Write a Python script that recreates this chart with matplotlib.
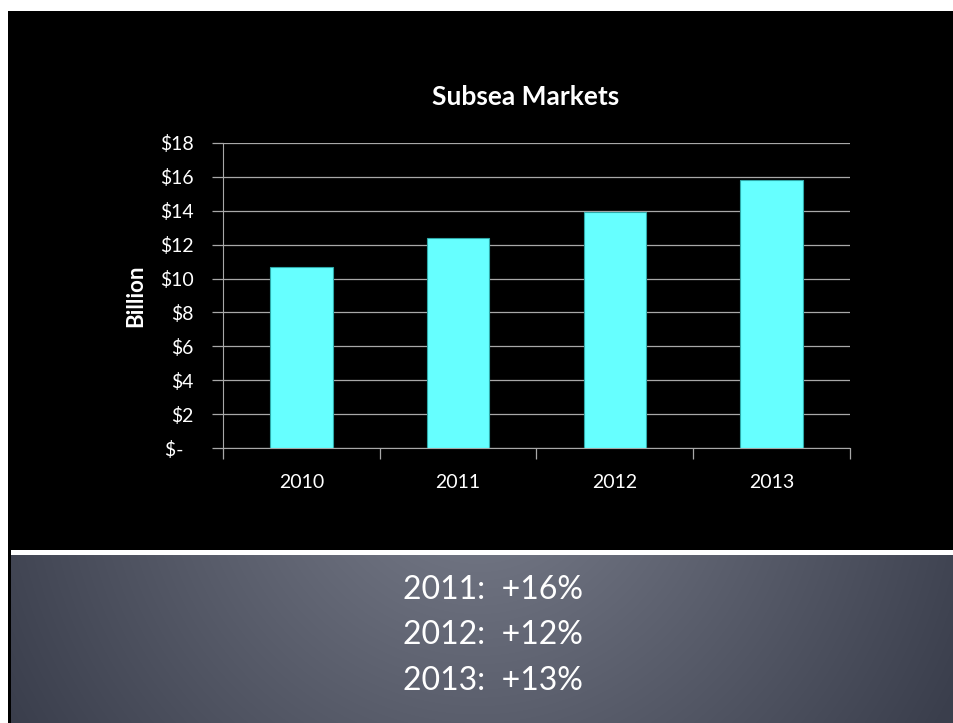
import numpy as np
import matplotlib
matplotlib.use('Agg')
import matplotlib.pyplot as plt
import matplotlib.patches as patches

# chart data
years = ['2010', '2011', '2012', '2013']
market_bn = [10.7, 12.4, 13.9, 15.8]
y_ticks = [0, 2, 4, 6, 8, 10, 12, 14, 16, 18]
y_ticklabels = ['$-  ', '$2', '$4', '$6', '$8', '$10', '$12', '$14', '$16', '$18']
growth_lines = ['2011:  +16%', '2012:  +12%', '2013:  +13%']

W, H = 954, 723
plt.rcParams['font.family'] = ['Lato', 'DejaVu Sans']

fig = plt.figure(figsize=(W/100, H/100), dpi=100, facecolor='white')


def box(x0, y0, x1, y1):
    # pixel box (top-left origin) -> figure fraction rect
    return [x0/W, 1 - y1/H, (x1-x0)/W, (y1-y0)/H]


# slide background
bg = fig.add_axes([0, 0, 1, 1])
bg.set_xlim(0, W)
bg.set_ylim(H, 0)
bg.axis('off')
bg.add_patch(patches.Rectangle((8, 11), W-8, H-11, color='black', lw=0))
bg.add_patch(patches.Rectangle((11, 550), W-11, 5, color='white', lw=0))

# gray gradient panel
gx, gy = np.meshgrid(np.arange(11, W), np.arange(555, H))
r = np.hypot(gx - 477, gy - 450)
t = np.clip((r - 105) / (540 - 105), 0, 1)[..., None]
light = np.array([110, 114, 128]) / 255
dark = np.array([58, 62, 76]) / 255
grad = light*(1-t) + dark*t
bg.imshow(grad, extent=(11, W, H, 555), aspect='auto', zorder=1)

for i, s in enumerate(growth_lines):
    bg.text(493, 590 + 45.5*i, s, color='white', fontsize=23, ha='center', va='center', zorder=2)

# bar chart
ax = fig.add_axes(box(223, 143, 850, 448))
ax.set_facecolor('black')
x = np.arange(len(years))
ax.bar(x, market_bn, width=0.4, color='#66ffff', edgecolor='#2fa8a8', linewidth=0.8, zorder=3)

ax.set_xlim(-0.5, len(years) - 0.5)
ax.set_ylim(0, 18)
ax.set_yticks(y_ticks)
ax.set_yticklabels(y_ticklabels)
ax.set_xticks(np.arange(-0.5, len(years)))
ax.set_xticklabels([])
ax.set_xticks(x, minor=True)
ax.set_xticklabels(years, minor=True)

grid_c = '#a8a8a8'
ax.grid(axis='y', color=grid_c, linewidth=0.9, zorder=0)
for side in ['top', 'right']:
    ax.spines[side].set_visible(False)
ax.spines['left'].set_color(grid_c)
ax.spines['bottom'].set_color(grid_c)
ax.tick_params(axis='y', colors=grid_c, length=8, width=0.9, labelcolor='white', labelsize=14, pad=13)
ax.tick_params(axis='x', which='major', colors=grid_c, length=8, width=0.9)
ax.tick_params(axis='x', which='minor', length=0, labelcolor='white', labelsize=14, pad=19)

ax.set_ylabel('Billion', color='white', fontsize=16, fontweight='bold')
ax.yaxis.set_label_coords((146 - 223) / 627, 0.5)
fig.text(526/W, 1 - 97/H, 'Subsea Markets', color='white', fontsize=19, fontweight='bold',
         ha='center', va='center')

fig.savefig('out.png', dpi=100, facecolor='white')
